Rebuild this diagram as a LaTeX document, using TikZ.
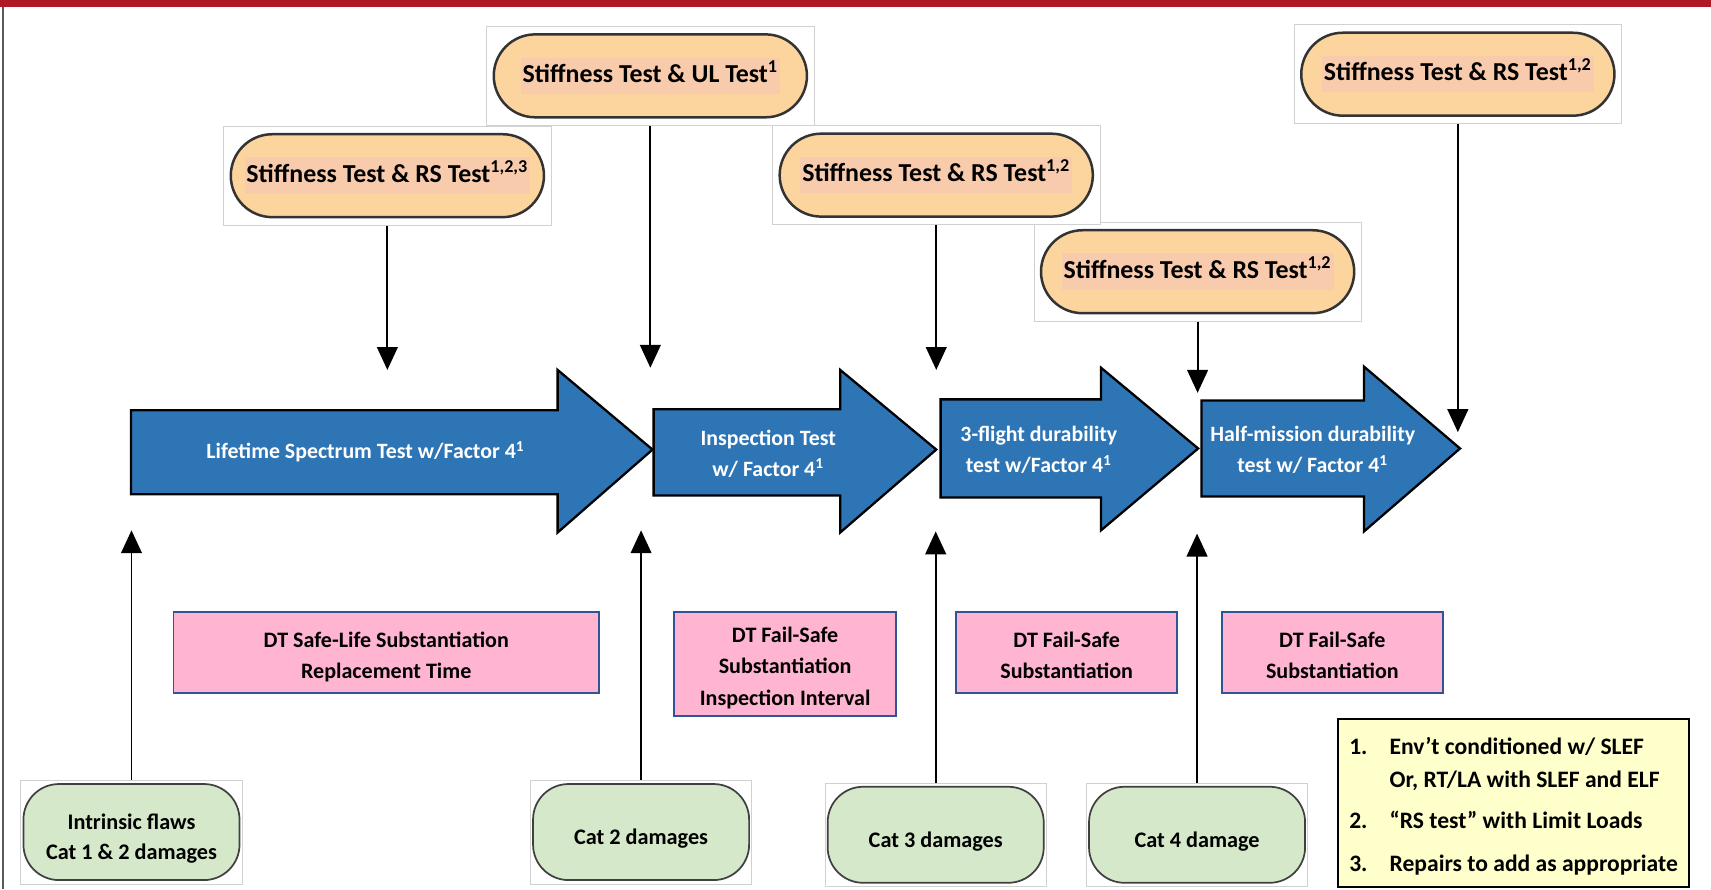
\documentclass[tikz,border=0pt]{standalone}
\usepackage{fontspec}
\setmainfont{Carlito}
\usetikzlibrary{arrows.meta}
\definecolor{barred}{RGB}{176,24,36}
\definecolor{ovalorange}{RGB}{252,212,158}
\definecolor{hlpink}{RGB}{247,203,172}
\definecolor{stageblue}{RGB}{46,117,182}
\definecolor{boxpink}{RGB}{255,180,210}
\definecolor{boxblue}{RGB}{47,85,151}
\definecolor{damgreen}{RGB}{213,232,202}
\definecolor{notesyellow}{RGB}{255,255,204}

\newcommand{\hlt}[1]{{\setlength{\fboxsep}{1pt}\colorbox{hlpink}{\rule[-5pt]{0pt}{17pt}#1}}}

\tikzset{
  imgbox/.style={draw=black!18, fill=white, line width=0.4pt, minimum width=60mm, minimum height=18.2mm, inner sep=0pt},
  testoval/.style={draw=black!80, fill=ovalorange, line width=1.3pt, rounded corners=7.6mm, minimum width=57.4mm, minimum height=15.2mm, inner sep=0pt, font=\fontsize{13.5}{16}\selectfont\bfseries},
  stagearrow/.style={draw=black, fill=stageblue, line width=1.2pt, line join=miter},
  stagetext/.style={text=white, align=center, font=\fontsize{11.4}{16}\selectfont\bfseries},
  dtbox/.style={draw=boxblue, fill=boxpink, line width=1pt, minimum width=40.6mm, minimum height=14.8mm, align=center, font=\fontsize{11.5}{16.3}\selectfont\bfseries},
  dambox/.style={draw=black!18, fill=white, line width=0.4pt, minimum width=40.6mm, minimum height=19mm, inner sep=0pt},
  damage/.style={draw=black!75, fill=damgreen, line width=0.9pt, rounded corners=6.5mm, minimum width=39.6mm, minimum height=17.6mm, align=center, font=\fontsize{11.6}{15.4}\selectfont\bfseries},
  notes/.style={draw=black, fill=notesyellow, line width=1.2pt, minimum width=64.4mm, minimum height=30.8mm, inner sep=0pt, font=\fontsize{12.3}{17.1}\selectfont\bfseries},
  link/.style={line width=1pt, -{Triangle[length=4.2mm, width=3.8mm]}},
}

\begin{document}
\begin{tikzpicture}[x=0.2mm, y=-0.2mm]
\useasboundingbox (0,0) rectangle (1568,815);

% frame
\fill[barred] (0,0) rectangle (1568,6);
\draw[black!65, line width=1pt] (2.5,6) -- (2.5,815);

% test ovals
\node[imgbox] (ulbg) at (596,69.5) {};
\node[testoval] (ul) at (ulbg) {\hlt{Stiffness Test \& UL Test\textsuperscript{1}}};
\node[imgbox] (rsabg) at (355,161) {};
\node[testoval] (rsa) at (rsabg) {\hlt{Stiffness Test \& RS Test\textsuperscript{1,2,3}}};
\node[imgbox] (rscbg) at (1097.5,249) {};
\node[testoval] (rsc) at (rscbg) {\hlt{Stiffness Test \& RS Test\textsuperscript{1,2}}};
\node[imgbox] (rsbbg) at (858,160.5) {};
\node[testoval] (rsb) at (rsbbg) {\hlt{Stiffness Test \& RS Test\textsuperscript{1,2}}};
\node[imgbox] (rsdbg) at (1336,68) {};
\node[testoval] (rsd) at (rsdbg) {\hlt{Stiffness Test \& RS Test\textsuperscript{1,2}}};

% test stages
\draw[stagearrow] (120,376) -- (511,376) -- (511,339) -- (598,412) -- (511,488) -- (511,453) -- (120,453) -- cycle;
\node[stagetext] (life) at (335,414) {Lifetime Spectrum Test w/Factor 4\textsuperscript{1}};
\draw[stagearrow] (599,375) -- (770,375) -- (770,339) -- (858,412) -- (770,488) -- (770,454) -- (599,454) -- cycle;
\node[stagetext] (insp) at (704,416) {Inspection Test\\w/ Factor 4\textsuperscript{1}};
\draw[stagearrow] (862,366) -- (1009,366) -- (1009,337) -- (1098,411) -- (1009,486) -- (1009,456) -- (862,456) -- cycle;
\node[stagetext] (threeflt) at (952,412.5) {3-flight durability\\test w/Factor 4\textsuperscript{1}};
\draw[stagearrow] (1101,367) -- (1250,367) -- (1250,336) -- (1338,411) -- (1250,487) -- (1250,455) -- (1101,455) -- cycle;
\node[stagetext] (halfmis) at (1203,412.5) {Half-mission durability\\test w/ Factor 4\textsuperscript{1}};

% substantiation boxes
\node[dtbox, minimum width=78mm] (safelife) at (354,598) {\rule{0pt}{12.5pt}DT Safe-Life Substantiation\\Replacement Time};
\node[dtbox, minimum height=19mm] (failsafea) at (719.5,608.5) {\rule{0pt}{12pt}DT Fail-Safe\\Substantiation\\Inspection Interval};
\node[dtbox] (failsafeb) at (977.5,598) {\rule{0pt}{11pt}DT Fail-Safe\\Substantiation};
\node[dtbox] (failsafec) at (1221,598) {\rule{0pt}{11pt}DT Fail-Safe\\Substantiation};

% damage categories
\node[dambox] (flawbg) at (120.5,762.5) {};
\node[damage] (flaw) at (flawbg) {\rule{0pt}{15pt}Intrinsic flaws\\Cat 1 \& 2 damages};
\node[dambox] (cattwobg) at (587.5,762.5) {};
\node[damage] (cattwo) at (cattwobg) {\rule{0pt}{15pt}Cat 2 damages};
\node[dambox] (catthreebg) at (857.5,765) {};
\node[damage] (catthree) at (catthreebg) {\rule{0pt}{15pt}Cat 3 damages};
\node[dambox] (catfourbg) at (1097,765) {};
\node[damage] (catfour) at (catfourbg) {\rule{0pt}{15pt}Cat 4 damage};

% notes
\node[notes] (legend) at (1387,736) {%
  \begin{tabular}{@{}p{7.4mm}@{}l@{}}
    \rule{0pt}{15.4pt}1. & Env’t conditioned w/ SLEF\\
       & Or, RT/LA with SLEF and ELF\\[4.2pt]
    2. & “RS test” with Limit Loads\\[5.4pt]
    3. & Repairs to add as appropriate
  \end{tabular}};

% arrow ends
\coordinate (rsatip) at (355,339);
\coordinate (ultip) at (596,337);
\coordinate (rsbtip) at (858,339);
\coordinate (rsctip) at (1097.5,360);
\coordinate (rsdtip) at (1336,396);
\coordinate (flawtip) at (120.5,486);
\coordinate (cattwotip) at (587.5,486);
\coordinate (catthreetip) at (857.5,487);
\coordinate (catfourtip) at (1097,489);

\draw[link] (rsabg.south) -- (rsatip);
\draw[link] (ulbg.south) -- (ultip);
\draw[link] (rsbbg.south) -- (rsbtip);
\draw[link] (rscbg.south) -- (rsctip);
\draw[link] (rsdbg.south) -- (rsdtip);
\draw[link] (flawbg.north) -- (flawtip);
\draw[link] (cattwobg.north) -- (cattwotip);
\draw[link] (catthreebg.north) -- (catthreetip);
\draw[link] (catfourbg.north) -- (catfourtip);
\end{tikzpicture}
\end{document}
